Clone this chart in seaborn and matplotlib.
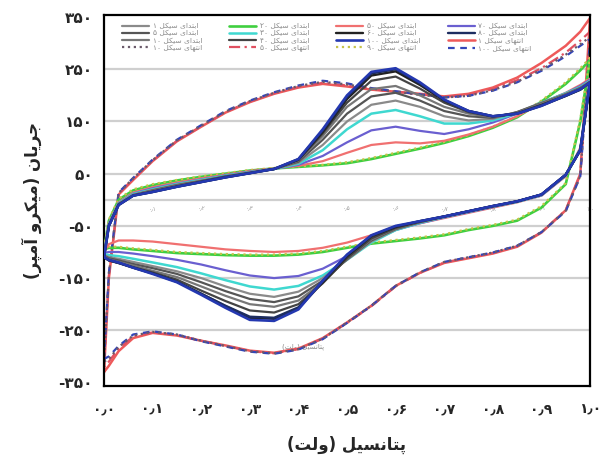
import re
import matplotlib
matplotlib.use("Agg")
import matplotlib.pyplot as plt
from matplotlib import font_manager
from matplotlib.ft2font import FT2Font
import seaborn as sns
import pandas as pd

# ---------------- data ----------------
volt_fwd = [0.0, 0.01, 0.03, 0.06, 0.1, 0.15, 0.2, 0.25, 0.3, 0.35, 0.4, 0.45,
            0.5, 0.55, 0.6, 0.65, 0.7, 0.75, 0.8, 0.85, 0.9, 0.95, 0.98, 1.0]
volt_rev = volt_fwd[::-1]

# group A: large loop, no peak
a1_up = [-330, -150, 10, 38, 74, 112, 140, 167, 187, 203, 215, 222, 217, 211, 207, 203, 198, 203, 215, 234, 262, 295, 322, 348]
a1_dn = [348, 50, -20, -63, -90, -103, -112, -121, -140, -165, -203, -235, -265, -285, -293, -289, -279, -270, -260, -255, -265, -290, -318, -330]
a2_up = [-320, -145, 12, 40, 75, 113, 141, 168, 188, 204, 216, 224, 219, 212, 207, 202, 197, 201, 212, 229, 252, 282, 305, 322]
a2_dn = [322, 48, -20, -62, -89, -102, -111, -120, -140, -166, -204, -236, -266, -286, -294, -290, -280, -270, -259, -254, -262, -285, -310, -320]
a3_up = [-305, -140, 14, 42, 77, 115, 143, 170, 190, 206, 219, 228, 223, 214, 208, 202, 196, 199, 209, 225, 247, 275, 295, 308]
a3_dn = [308, 45, -22, -62, -88, -101, -110, -119, -139, -165, -203, -236, -267, -287, -295, -291, -281, -271, -258, -252, -258, -280, -300, -305]
a4_up = [-310, -142, 13, 41, 76, 114, 142, 169, 189, 205, 218, 226, 221, 213, 207, 201, 196, 199, 210, 226, 249, 278, 298, 312]
a4_dn = [312, 46, -21, -62, -88, -101, -110, -119, -139, -165, -203, -235, -266, -286, -294, -290, -280, -270, -258, -253, -260, -282, -305, -310]

# group B: small loop, no peak
b1_up = [-95, -40, 0, 18, 28, 37, 44, 50, 56, 60, 63, 66, 70, 78, 88, 98, 109, 122, 138, 158, 188, 222, 248, 268]
b1_dn = [268, 150, 30, -15, -40, -50, -58, -68, -74, -79, -84, -92, -100, -105, -107, -107, -106, -104, -102, -98, -95, -92, -92, -95]
b2_up = [-92, -38, 2, 20, 30, 38, 45, 51, 57, 61, 64, 67, 72, 80, 90, 100, 111, 124, 140, 160, 190, 225, 252, 272]
b2_dn = [272, 155, 32, -12, -38, -48, -56, -66, -72, -77, -82, -90, -98, -103, -105, -105, -104, -102, -100, -96, -93, -90, -90, -92]

# group C: growing redox peaks
c1_up = [-100, -45, -5, 14, 24, 33, 41, 48, 55, 60, 65, 74, 90, 105, 110, 108, 113, 125, 140, 160, 185, 205, 220, 232]
c1_dn = [232, 100, 45, 8, -5, -15, -25, -35, -45, -55, -68, -82, -92, -98, -100, -98, -95, -90, -85, -80, -78, -78, -85, -100]
c2_up = [-102, -46, -6, 12, 22, 31, 39, 47, 54, 59, 67, 84, 110, 133, 140, 132, 126, 135, 148, 165, 186, 204, 218, 230]
c2_dn = [230, 98, 46, 8, -4, -14, -24, -34, -45, -58, -80, -108, -132, -146, -150, -145, -135, -124, -115, -108, -103, -100, -100, -102]
c3_up = [-104, -47, -7, 11, 20, 30, 38, 46, 53, 59, 69, 95, 135, 165, 172, 160, 146, 146, 152, 166, 186, 204, 216, 228]
c3_dn = [228, 97, 47, 9, -4, -13, -23, -33, -44, -58, -82, -115, -145, -165, -172, -166, -154, -141, -129, -120, -113, -108, -106, -104]
c4_up = [-105, -48, -8, 10, 19, 29, 37, 45, 53, 59, 71, 105, 150, 182, 190, 178, 160, 152, 155, 168, 186, 203, 215, 227]
c4_dn = [227, 96, 47, 9, -3, -13, -23, -33, -43, -57, -80, -115, -150, -176, -186, -180, -166, -150, -137, -127, -119, -113, -110, -106]
c5_up = [-106, -49, -8, 9, 18, 28, 36, 45, 52, 59, 73, 115, 165, 198, 205, 190, 170, 160, 157, 168, 185, 202, 214, 226]
c5_dn = [226, 96, 48, 10, -3, -13, -22, -32, -43, -56, -78, -114, -155, -185, -196, -190, -175, -158, -142, -131, -123, -116, -112, -107]
c6_up = [-107, -49, -9, 9, 17, 27, 35, 44, 52, 59, 75, 122, 178, 212, 218, 200, 178, 165, 158, 167, 184, 201, 213, 226]
c6_dn = [226, 95, 48, 10, -3, -12, -22, -32, -42, -55, -76, -113, -158, -193, -205, -200, -184, -166, -148, -136, -126, -119, -114, -108]
c7_up = [-108, -50, -9, 8, 16, 26, 35, 44, 51, 59, 76, 127, 186, 228, 236, 213, 186, 168, 159, 166, 182, 200, 212, 225]
c7_dn = [225, 95, 48, 10, -3, -12, -22, -32, -42, -54, -74, -112, -160, -200, -216, -212, -194, -174, -153, -139, -129, -121, -116, -109]
c8_up = [-109, -50, -10, 8, 15, 25, 34, 43, 51, 59, 77, 130, 193, 238, 246, 220, 190, 170, 160, 165, 181, 199, 211, 225]
c8_dn = [225, 95, 48, 10, -3, -12, -22, -32, -41, -52, -70, -108, -158, -208, -228, -226, -204, -180, -157, -141, -130, -121, -116, -110]
c9_up = [-110, -50, -10, 8, 15, 25, 34, 43, 51, 59, 78, 133, 197, 242, 250, 223, 191, 170, 160, 165, 180, 199, 211, 225]
c9_dn = [225, 95, 48, 10, -3, -12, -22, -32, -41, -51, -69, -106, -156, -206, -226, -224, -203, -180, -157, -141, -130, -121, -116, -110]
c10_up = [-110, -50, -10, 8, 15, 25, 34, 43, 51, 59, 78, 135, 200, 245, 252, 225, 192, 170, 160, 165, 180, 200, 212, 225]
c10_dn = [225, 95, 48, 10, -3, -12, -22, -32, -41, -50, -68, -105, -155, -210, -232, -230, -207, -182, -158, -142, -130, -120, -115, -110]

# legend labels (column by column, 4 rows each)
legend_labels = [
    "ابتدای سیکل ۱", "ابتدای سیکل ۵", "ابتدای سیکل ۱۰", "انتهای سیکل ۱۰",
    "ابتدای سیکل ۲۰", "ابتدای سیکل ۳۰", "ابتدای سیکل ۴۰", "انتهای سیکل ۵۰",
    "ابتدای سیکل ۵۰", "ابتدای سیکل ۶۰", "ابتدای سیکل ۱۰۰", "انتهای سیکل ۹۰",
    "ابتدای سیکل ۷۰", "ابتدای سیکل ۸۰", "انتهای سیکل ۱", "انتهای سیکل ۱۰۰",
]
y_ticks = [-350, -250, -150, -50, 50, 150, 250, 350]
y_tick_labels = ["-۳۵۰", "-۲۵۰", "-۱۵۰", "-۵۰", "۵۰", "۱۵۰", "۲۵۰", "۳۵۰"]
x_ticks = [0.0, 0.1, 0.2, 0.3, 0.4, 0.5, 0.6, 0.7, 0.8, 0.9, 1.0]
x_tick_labels = ["۰٫۰", "۰٫۱", "۰٫۲", "۰٫۳", "۰٫۴", "۰٫۵", "۰٫۶", "۰٫۷", "۰٫۸", "۰٫۹", "۱٫۰"]
y_title = "جریان (میکرو آمپر)"
x_title = "پتانسیل (ولت)"

# ---------------- simple Persian shaping (matplotlib has no bidi) ----------------
FORMS = {
    'ا': ('\uFE8D', '\uFE8E', None, None),
    'آ': ('\uFE81', '\uFE82', None, None),
    'ب': ('\uFE8F', '\uFE90', '\uFE91', '\uFE92'),
    'پ': ('\uFB56', '\uFB57', '\uFB58', '\uFB59'),
    'ت': ('\uFE95', '\uFE96', '\uFE97', '\uFE98'),
    'ج': ('\uFE9D', '\uFE9E', '\uFE9F', '\uFEA0'),
    'د': ('\uFEA9', '\uFEAA', None, None),
    'ر': ('\uFEAD', '\uFEAE', None, None),
    'س': ('\uFEB1', '\uFEB2', '\uFEB3', '\uFEB4'),
    'ک': ('\uFB8E', '\uFB8F', '\uFB90', '\uFB91'),
    'ل': ('\uFEDD', '\uFEDE', '\uFEDF', '\uFEE0'),
    'م': ('\uFEE1', '\uFEE2', '\uFEE3', '\uFEE4'),
    'ن': ('\uFEE5', '\uFEE6', '\uFEE7', '\uFEE8'),
    'و': ('\uFEED', '\uFEEE', None, None),
    'ه': ('\uFEE9', '\uFEEA', '\uFEEB', '\uFEEC'),
    'ی': ('\uFBFC', '\uFBFD', '\uFBFE', '\uFBFF'),
}
DIG = r'[0-9\u06F0-\u06F9\u066B/.\-]'


def shape(text):
    chars = list(text)
    out = []
    for i, c in enumerate(chars):
        if c not in FORMS:
            out.append(c)
            continue
        prev = chars[i - 1] if i > 0 else None
        nxt = chars[i + 1] if i + 1 < len(chars) else None
        jp = prev in FORMS and FORMS[prev][2] is not None
        jn = FORMS[c][2] is not None and nxt in FORMS
        iso, fin, ini, med = FORMS[c]
        out.append(med if (jp and jn) else fin if jp else ini if jn else iso)
    s = ''.join(out)
    runs = re.findall(DIG + r'+|(?:(?!' + DIG + r').)+', s)
    mirror = {'(': ')', ')': '('}
    vis = []
    for r in reversed(runs):
        if re.match(DIG, r):
            vis.append(r)
        else:
            vis.append(''.join(mirror.get(ch, ch) for ch in reversed(r)))
    return ''.join(vis)


def has_glyphs(weight, sample):
    try:
        path = font_manager.findfont(font_manager.FontProperties(family='DejaVu Sans', weight=weight))
        cmap = FT2Font(path).get_charmap()
        return all(ord(ch) in cmap for ch in sample)
    except Exception:
        return False


sns.set_style("white")
plt.rcParams['font.family'] = ['DejaVu Sans']
bold_ok = has_glyphs('bold', '\uFB58\uFB90\uFBFE\u06F3')
BW = 'bold' if bold_ok else 'normal'

fig = plt.figure(figsize=(6.03, 4.68), dpi=100)
ax = fig.add_axes([0.1725, 0.176, 0.806, 0.792])

# inner gridlines & zero axis
for yv in [250, 150, 50, -50, -150, -250]:
    ax.axhline(yv, color='#cfcfcf', lw=1.6, zorder=0)
ax.axhline(0, color='#cfcfcf', lw=1.6, zorder=0)
for xv, lab in zip(x_ticks[1:], x_tick_labels[1:]):
    ax.text(xv, -12, lab, fontsize=4, color='#9a9a9a', ha='center', va='top', zorder=0.5)
ax.text(0.41, -282, shape(x_title), fontsize=5, color='#8a8a8a', ha='center', va='center', zorder=0.5)

curves = [
    # (label idx, up, dn, color, linestyle, lw, zorder)
    (14, a1_up, a1_dn, '#ee5a5a', '-', 1.8, 2),
    (7, a2_up, a2_dn, '#e05060', (0, (5, 2, 1, 2)), 1.6, 2.1),
    (15, a3_up, a3_dn, '#3346b8', (0, (3, 2.5)), 1.6, 2.2),
    (3, a4_up, a4_dn, '#6a5a6a', ':', 1.6, 2.3),
    (4, b1_up, b1_dn, '#3fcf3f', '-', 1.9, 3),
    (11, b2_up, b2_dn, '#c6c24a', ':', 1.6, 3.1),
    (8, c1_up, c1_dn, '#f07070', '-', 1.6, 4),
    (12, c2_up, c2_dn, '#6a5fd0', '-', 1.6, 4.1),
    (5, c3_up, c3_dn, '#3fd8d0', '-', 1.8, 4.2),
    (0, c4_up, c4_dn, '#8a8a8a', '-', 1.6, 4.3),
    (1, c5_up, c5_dn, '#555555', '-', 1.6, 4.4),
    (2, c6_up, c6_dn, '#777777', '-', 1.6, 4.5),
    (6, c7_up, c7_dn, '#444444', '-', 1.6, 4.6),
    (9, c8_up, c8_dn, '#222222', '-', 1.7, 4.7),
    (13, c9_up, c9_dn, '#1d2d60', '-', 1.7, 4.8),
    (10, c10_up, c10_dn, '#2438b0', '-', 1.9, 4.9),
]

handles = {}
for idx, up, dn, col, ls, lw, zo in curves:
    df = pd.DataFrame({'v': volt_fwd + volt_rev, 'i': up + dn})
    sns.lineplot(data=df, x='v', y='i', sort=False, estimator=None, ax=ax,
                 color=col, lw=lw, linestyle=ls, zorder=zo, legend=False)
    handles[idx] = ax.get_lines()[-1]

order = list(range(16))
leg = ax.legend([handles[i] for i in order], [shape(legend_labels[i]) for i in order],
                ncol=4, loc='upper left', bbox_to_anchor=(0.026, 0.992),
                frameon=False, fontsize=5.4, handlelength=3.6, handletextpad=0.5,
                columnspacing=3.6, labelspacing=0.12, borderpad=0.2)
for t in leg.get_texts():
    t.set_color('#8a8a8a')

ax.set_xlim(0.0, 1.0)
ax.set_ylim(-356, 354)
ax.set_yticks(y_ticks)
ax.set_yticklabels(y_tick_labels, fontsize=11, fontweight=BW)
ax.set_xticks(x_ticks)
ax.set_xticklabels(x_tick_labels, fontsize=10, fontweight=BW)
ax.tick_params(axis='both', length=0)
ax.tick_params(axis='y', pad=8)
ax.tick_params(axis='x', pad=12)
ax.set_xlabel(shape(x_title), fontsize=12, fontweight=BW, labelpad=14)
ax.set_ylabel(shape(y_title), fontsize=12, fontweight=BW, labelpad=12)
for sp in ax.spines.values():
    sp.set_visible(True)
    sp.set_color('black')
    sp.set_linewidth(1.6)
ax.grid(False)

fig.savefig('out.png', dpi=100)
